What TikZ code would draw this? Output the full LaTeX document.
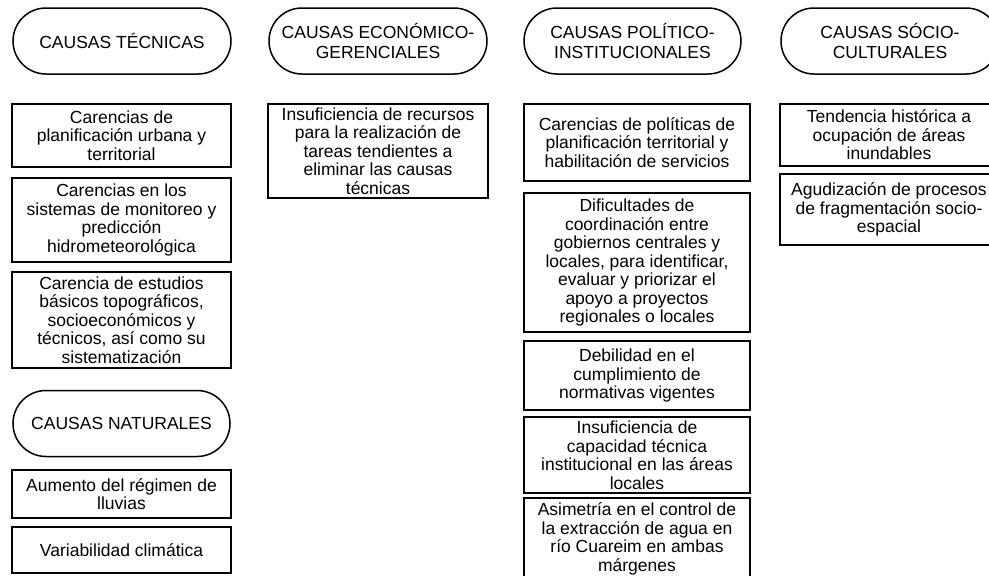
\documentclass[tikz,border=0pt]{standalone}
\usepackage{fontspec}
\setmainfont{Liberation Sans}
\usetikzlibrary{shapes.misc}
\tikzset{
  headpill/.style={draw, rounded rectangle, line width=1.5pt, align=center, inner sep=1pt, minimum height=66pt, font=\fontsize{17.5}{19.5}\selectfont},
  causebox/.style={draw, line width=1.5pt, align=center, inner sep=1pt, font=\fontsize{17.5}{18.5}\selectfont},
}
\begin{document}
\begin{tikzpicture}[x=1pt,y=-1pt]
  \useasboundingbox (0,0) rectangle (989,576);
  % headings
  \foreach \nm/\cx/\cy/\bw/\txt in {%
    {ptec/122/41/220/{CAUSAS TÉCNICAS}},
    {peco/378/41/220/{CAUSAS ECONÓMICO-\\GERENCIALES}},
    {ppol/632.5/41/219/{CAUSAS POLÍTICO-\\INSTITUCIONALES}},
    {psoc/890/41/220/{CAUSAS SÓCIO-\\CULTURALES}},
    {pnat/121.5/423.5/219/{CAUSAS NATURALES}}} {
    \node[headpill, minimum width=\bw pt] (\nm) at (\cx,\cy) {\txt};
  }
  % cause boxes
  \foreach \nm/\cx/\cy/\bw/\bh/\txt in {%
    {tec1/121.5/135.5/219/63/{Carencias de\\planificación urbana y\\territorial}},
    {tec2/121.5/220/219/84/{Carencias en los\\sistemas de monitoreo y\\predicción\\hidrometeorológica}},
    {tec3/121.5/320/219/96/{Carencia de estudios\\básicos topográficos,\\socioeconómicos y\\técnicos, así como su\\sistematización}},
    {nat1/121.5/494/219/48/{Aumento del régimen de\\lluvias}},
    {nat2/121.5/550/219/46/{Variabilidad climática}},
    {eco1/378/151/220/94/{Insuficiencia de recursos\\para la realización de\\tareas tendientes a\\eliminar las causas\\técnicas}},
    {pol1/637/142.5/226/77/{Carencias de políticas de\\planificación territorial y\\habilitación de servicios}},
    {pol2/637/262.5/226/139/{Dificultades de\\coordinación entre\\gobiernos centrales y\\locales, para identificar,\\evaluar y priorizar el\\apoyo a proyectos\\regionales o locales}},
    {pol3/637/375.5/226/69/{Debilidad en el\\cumplimiento de\\normativas vigentes}},
    {pol4/637/455/226/76/{Insuficiencia de\\capacidad técnica\\institucional en las áreas\\locales}},
    {pol5/637/539/226/82/{Asimetría en el control de\\la extracción de agua en\\río Cuareim en ambas\\márgenes}},
    {soc1/889/135/218/62/{Tendencia histórica a\\ocupación de áreas\\inundables}},
    {soc2/889/209.5/218/71/{Agudización de procesos\\de fragmentación socio-\\espacial}}} {
    \node[causebox, minimum width=\bw pt, minimum height=\bh pt] (\nm) at (\cx,\cy) {\txt};
  }
\end{tikzpicture}
\end{document}
